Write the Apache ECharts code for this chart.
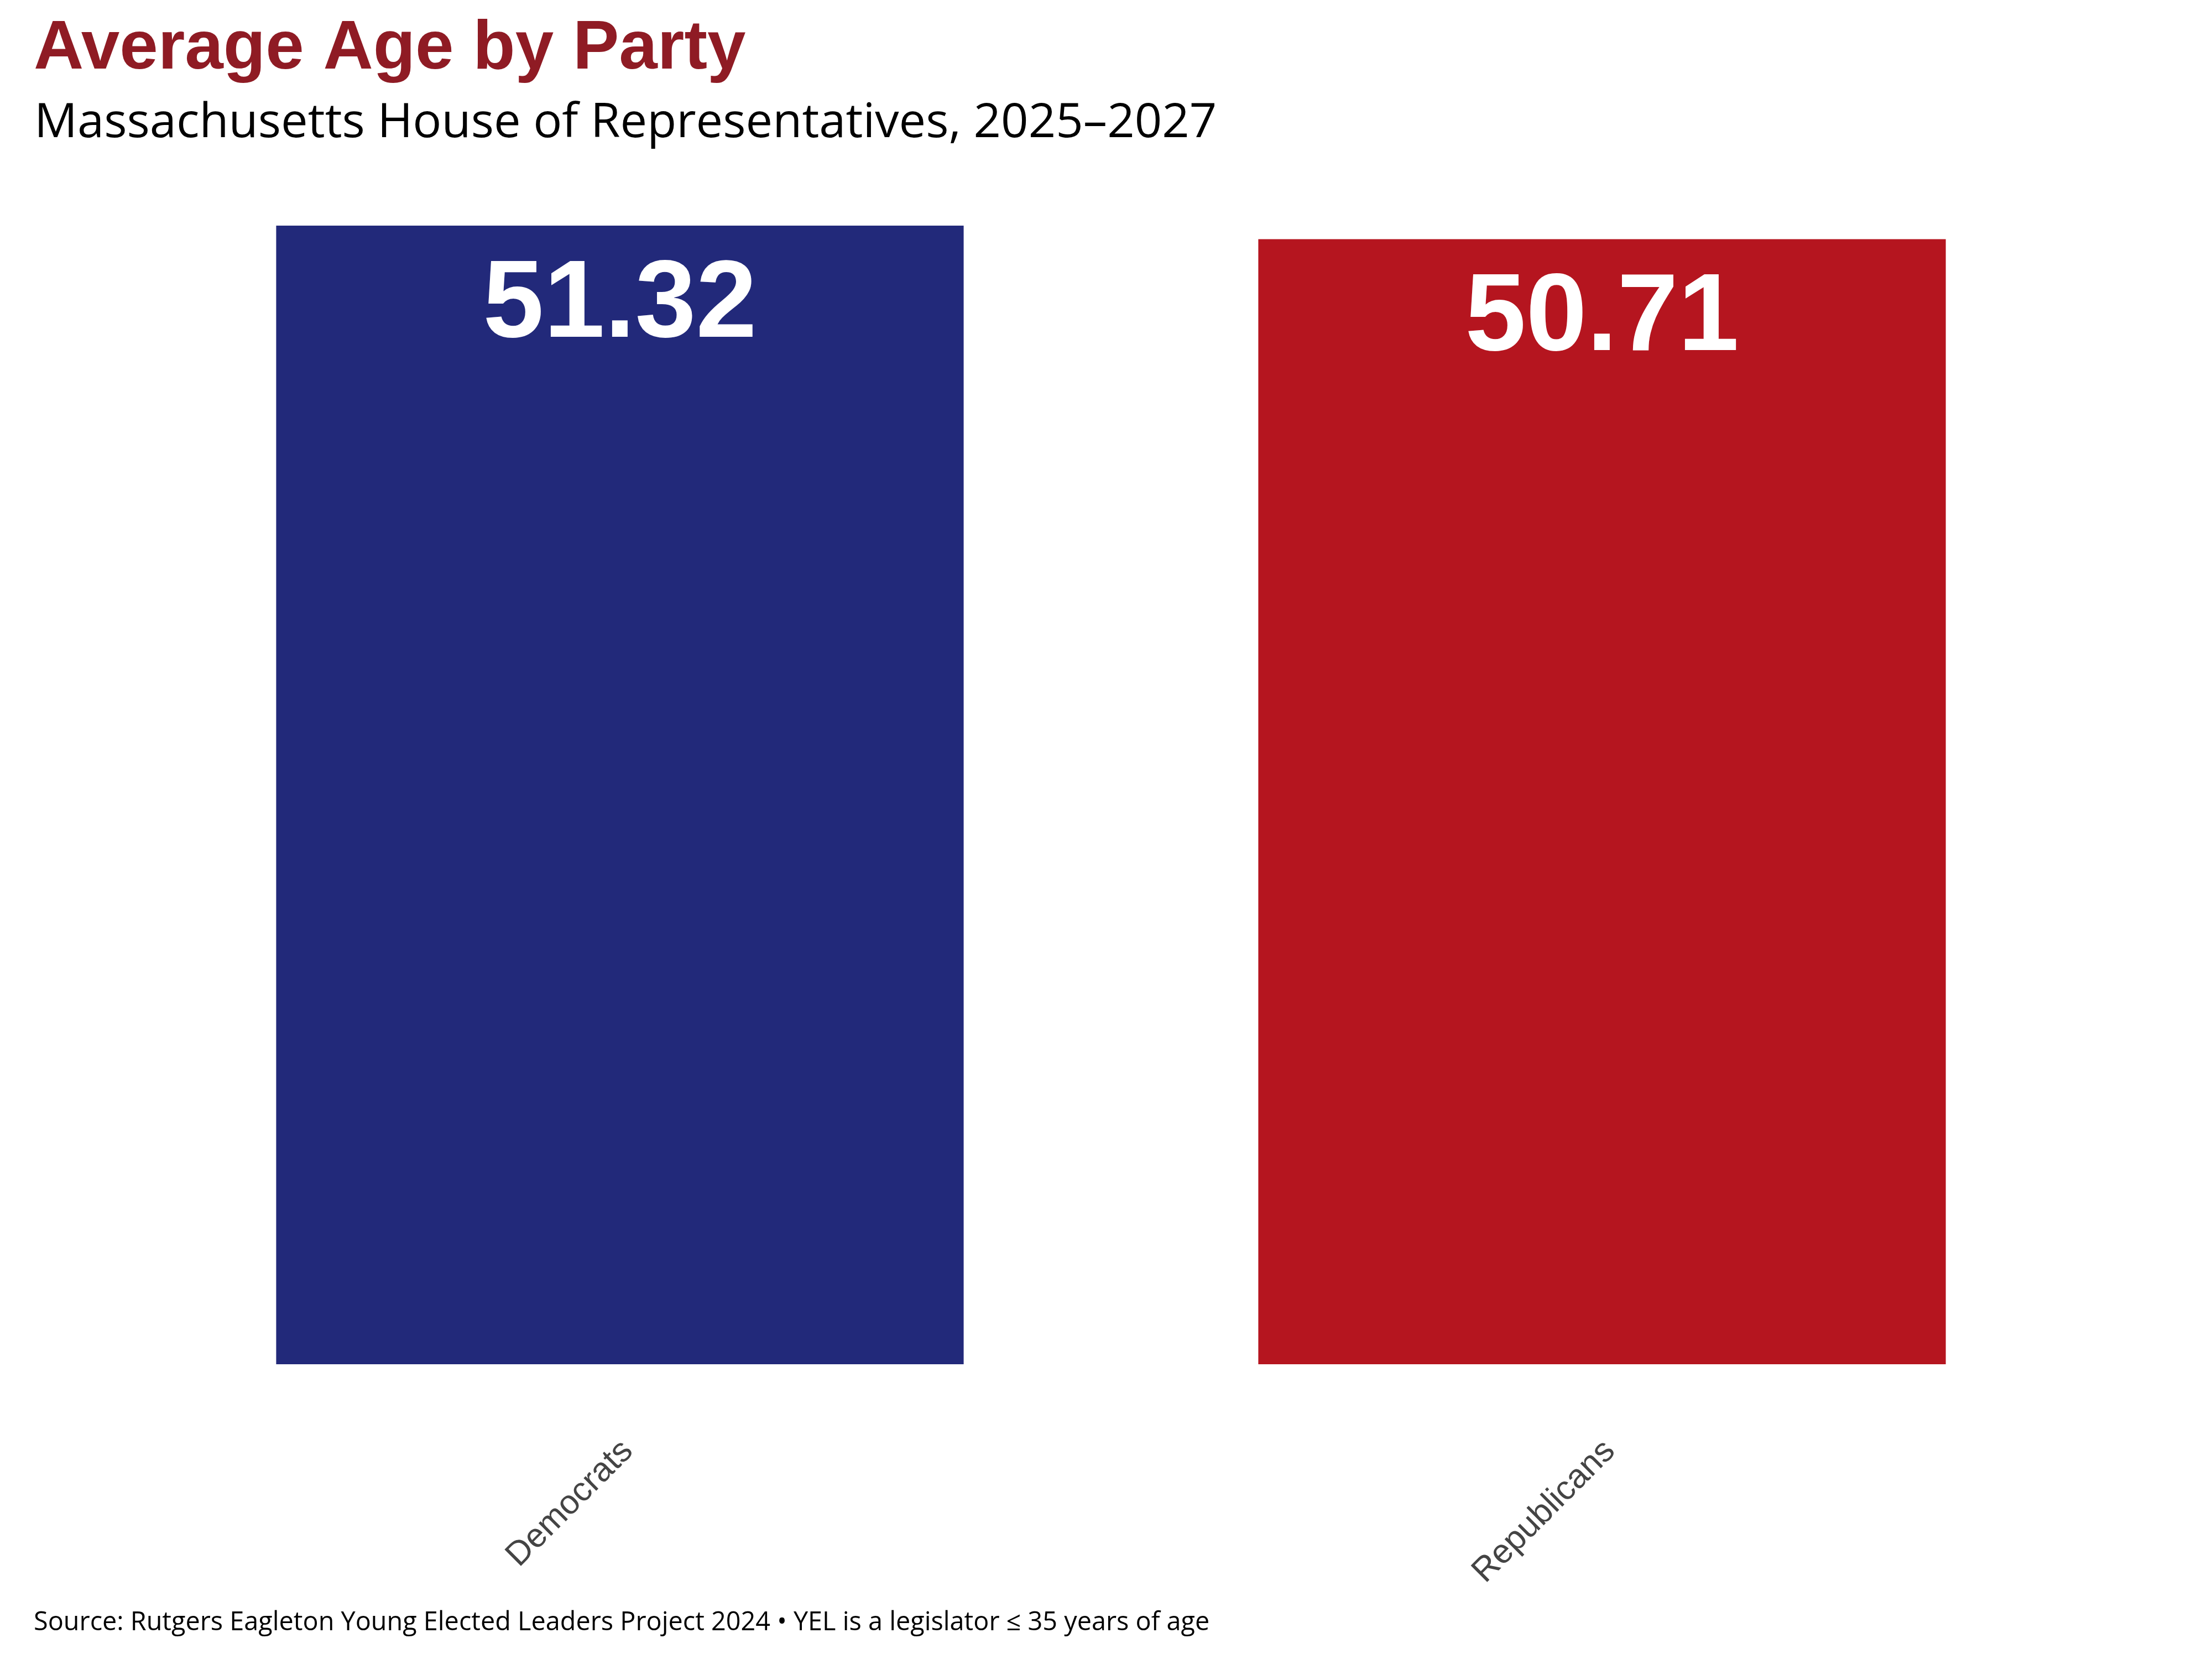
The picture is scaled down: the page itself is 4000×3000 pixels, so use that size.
<!DOCTYPE html>
<html>
<head>
<meta charset="utf-8">
<script src="https://cdn.jsdelivr.net/npm/echarts@6/dist/echarts.min.js"></script>
<style>html,body{margin:0;padding:0;background:#fff}#c{width:4000px;height:3000px}</style>
</head>
<body>
<div id="c"></div>
<script>
const categories = ['Democrats', 'Republicans'];
const averageAge = [51.32, 50.71];
const barColors = ['#22297A', '#B5151F'];

const chart = echarts.init(document.getElementById('c'));
chart.setOption({
  backgroundColor: '#ffffff',
  animation: false,
  title: [
    { text: 'Average Age by Party', left: 56, top: 22,
      textStyle: { fontFamily: 'Liberation Sans, Arial, sans-serif', fontWeight: 'bold', fontSize: 125, color: '#8F1B24' } },
    { text: 'Massachusetts House of Representatives, 2025\u20132027', left: 57, top: 175,
      textStyle: { fontFamily: 'Open Sans, sans-serif', fontWeight: 'normal', fontSize: 86.7, color: '#000000' } },
    { text: 'Source: Rutgers Eagleton Young Elected Leaders Project 2024 \u2022 YEL is a legislator \u2264 35 years of age', left: 56, top: 2906,
      textStyle: { fontFamily: 'Open Sans, sans-serif', fontWeight: 'normal', fontSize: 46.8, color: '#000000' } }
  ],
  grid: { left: 233, right: 215, top: 408, bottom: 533, containLabel: false },
  xAxis: {
    type: 'category',
    data: categories,
    axisLine: { show: false },
    axisTick: { show: false },
    axisLabel: { rotate: 45, margin: 162, fontSize: 61, color: '#444444', fontFamily: 'Liberation Sans, Arial, sans-serif',
      padding: [55, -20, 0, 0] }
  },
  yAxis: {
    type: 'value', min: 0, max: 'dataMax', show: false,
    splitLine: { show: false }
  },
  series: [{
    type: 'bar',
    barWidth: '70%',
    data: averageAge.map((v, i) => ({ value: v, itemStyle: { color: barColors[i] } })),
    label: {
      show: true, position: 'insideTop', distance: 47,
      formatter: p => p.value.toFixed(2),
      fontSize: 198, fontWeight: 'bold', color: '#ffffff',
      fontFamily: 'Liberation Sans, Arial, sans-serif'
    }
  }]
});
</script>
</body>
</html>
